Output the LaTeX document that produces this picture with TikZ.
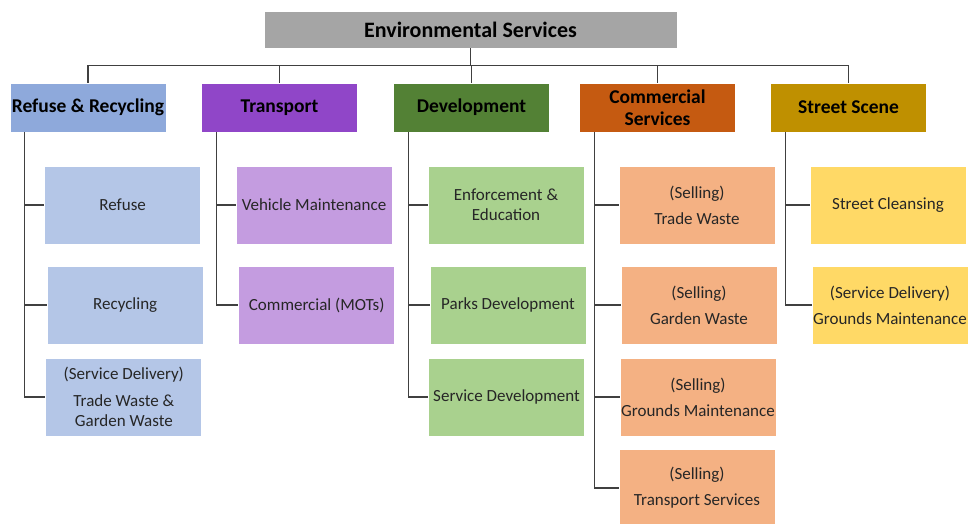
\documentclass[tikz,border=0pt]{standalone}
\usepackage{fontspec}
\setmainfont{Carlito}
\usetikzlibrary{positioning}
\definecolor{topgray}{HTML}{A5A5A5}
\definecolor{rrhead}{HTML}{8EA9DB}
\definecolor{rrteam}{HTML}{B4C6E7}
\definecolor{trhead}{HTML}{9046C8}
\definecolor{trteam}{HTML}{C49CE0}
\definecolor{devhead}{HTML}{538135}
\definecolor{devteam}{HTML}{A9D18E}
\definecolor{comhead}{HTML}{C55A11}
\definecolor{comteam}{HTML}{F4B183}
\definecolor{sshead}{HTML}{BF9000}
\definecolor{ssteam}{HTML}{FFD966}
\definecolor{linkgray}{HTML}{404040}
\definecolor{teamtext}{HTML}{262626}
\tikzset{
  topbox/.style={fill=topgray, draw=white, line width=0.8pt,
    minimum width=413pt, minimum height=37pt,
    font=\fontsize{22}{26}\selectfont\bfseries},
  headbox/.style={draw=white, line width=0.8pt, align=center,
    minimum width=156pt, minimum height=49pt, inner sep=1pt,
    font=\fontsize{19.5}{22}\selectfont\bfseries},
  teambox/.style={draw=white, line width=0.8pt, align=center,
    minimum width=156pt, minimum height=78pt, inner sep=1pt,
    text=teamtext, font=\fontsize{17}{20}\selectfont},
  link/.style={draw=linkgray, line width=1.2pt}
}
\begin{document}
\begin{tikzpicture}[x=1pt,y=-1pt]
\useasboundingbox (0,0) rectangle (972,523);
% top of the chart
\node[topbox] (env) at (470.5,29.5) {Environmental Services};
\coordinate (bus) at (470.5,65.5);
% service areas
\node[headbox, fill=rrhead]  (rr)  at (88,107.5)    {Refuse \& Recycling};
\node[headbox, fill=trhead]  (tr)  at (279.5,107.5) {Transport};
\node[headbox, fill=devhead] (dev) at (471.5,107.5) {Development};
\node[headbox, fill=comhead] (com) at (657.5,107.5) {Commercial\\Services};
\node[headbox, fill=sshead]  (ss)  at (848.5,107.5) {Street Scene};
% teams
\node[teambox, fill=rrteam] (refuse) at (122.7,205) {Refuse};
\node[teambox, fill=rrteam] (recyc)  at (125.2,305) {Recycling};
\node[teambox, fill=rrteam] (rrsd)   at (123.8,397) {(Service Delivery)\\[7pt]Trade Waste \&\\Garden Waste};
\node[teambox, fill=trteam] (vehmt)  at (314,205)   {Vehicle Maintenance};
\node[teambox, fill=trteam] (mots)   at (316.7,305) {Commercial (MOTs)};
\node[teambox, fill=devteam] (enfed)  at (506,205)   {Enforcement \&\\Education};
\node[teambox, fill=devteam] (parks)  at (508,305)   {Parks Development};
\node[teambox, fill=devteam] (servdev) at (506.5,397) {Service Development};
\node[teambox, fill=comteam] (trade)  at (697,205)   {(Selling)\\[6pt]Trade Waste};
\node[teambox, fill=comteam] (garden) at (699,305)   {(Selling)\\[6pt]Garden Waste};
\node[teambox, fill=comteam] (ground) at (698,397)   {(Selling)\\[6pt]Grounds Maintenance};
\node[teambox, fill=comteam] (transv) at (697,488)   {(Selling)\\[6pt]Transport Services};
\node[teambox, fill=ssteam] (clean)  at (888,205)   {Street Cleansing};
\node[teambox, fill=ssteam] (ssgm)   at (890,305)   {(Service Delivery)\\[6pt]Grounds Maintenance};
% links to the top box
\draw[link] (env.south) -- (bus);
\foreach \h in {rr,tr,dev,com,ss}
\draw[link] (\h.north) |- (bus);
% links to the teams
\foreach \h/\t in {rr/refuse,rr/recyc,rr/rrsd,tr/vehmt,tr/mots,
  dev/enfed,dev/parks,dev/servdev,com/trade,com/garden,com/ground,
  com/transv,ss/clean,ss/ssgm}
\draw[link] ([xshift=15pt]\h.south west) |- (\t.west);
\end{tikzpicture}
\end{document}
